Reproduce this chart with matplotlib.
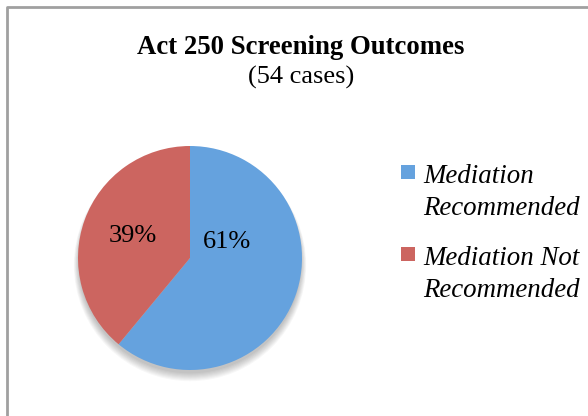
import matplotlib.pyplot as plt
from matplotlib.lines import Line2D
from matplotlib.patches import Circle, Rectangle

# Chart data
categories = ["Mediation\nRecommended", "Mediation Not\nRecommended"]
shares = [61, 39]           # percent
colors = ["#65a2de", "#cc6560"]
title = "Act 250 Screening Outcomes"
subtitle = "(54 cases)"

W, H = 588, 416
fig = plt.figure(figsize=(W/100, H/100), dpi=100)
plt.rcParams['font.family'] = ['Liberation Serif', 'DejaVu Serif']

# pie area: centre (190, 258) px, radius 112 px
cx, cy, r = 190, 258, 112
ax = fig.add_axes([(cx - r)/W, (H - cy - r)/H, 2*r/W, 2*r/H])

# soft shadow under the pie
for k in range(8):
    ax.add_patch(Circle((0, -0.035 - 0.004*k), 0.995 + 0.006*k, color='black',
                        alpha=0.03, lw=0, zorder=0, clip_on=False))

wedges, _ = ax.pie(shares, colors=colors, startangle=90, counterclock=False,
                   radius=1.0, wedgeprops=dict(lw=0, zorder=2))
for w in wedges:
    w.set_zorder(2)
ax.set_xlim(-1, 1)
ax.set_ylim(-1, 1)
ax.set_aspect('equal')
ax.axis('off')

# percentage labels (Excel "best fit" placement)
label_pos = [(0.33, 0.14), (-0.51, 0.2)]
for s, (x, y) in zip(shares, label_pos):
    ax.text(x, y, "%d%%" % s, ha='center', va='center', fontsize=19, zorder=3)

# titles
fig.text(301/W, 1 - 47/H, title, ha='center', va='center',
         fontsize=19.3, fontweight='bold')
fig.text(301/W, 1 - 77/H, subtitle, ha='center', va='center', fontsize=19)

# legend, drawn by hand so the swatch sits beside the first line
entry_top = [165, 247]      # px from top
for lab, c, top in zip(categories, colors, entry_top):
    fig.add_artist(Rectangle((401/W, 1 - (top + 14)/H), 14/W, 14/H,
                             transform=fig.transFigure, color=c, lw=0))
    for i, line in enumerate(lab.split('\n')):
        fig.text(423/W, 1 - (top + 18 + 32*i)/H, line, ha='left',
                 va='baseline', fontsize=19.4, style='italic')

# chart border (runs off right/bottom edges)
fig.add_artist(Line2D([7/W, 7/W, 1.0], [0.0, 1 - 7/H, 1 - 7/H],
                      transform=fig.transFigure, color='#a0a0a0', lw=2))

fig.savefig('out.png', dpi=100)
